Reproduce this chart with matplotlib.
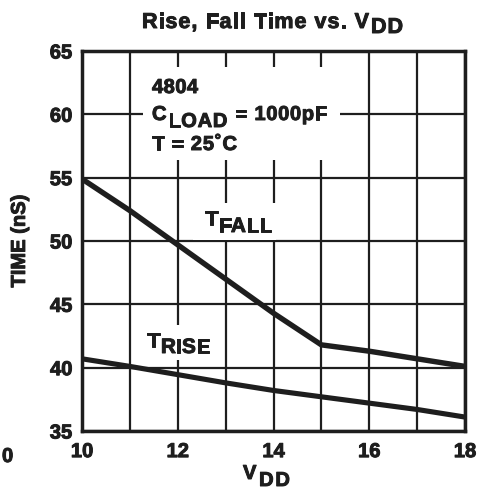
import matplotlib
matplotlib.use("Agg")
import matplotlib.pyplot as plt
import matplotlib.patheffects as pe
from matplotlib.font_manager import FontProperties
from matplotlib.patches import Rectangle
from matplotlib.transforms import IdentityTransform

plt.rcParams['font.family'] = ['Liberation Sans', 'DejaVu Sans']
plt.rcParams['font.weight'] = 'bold'

vdd = [10, 11, 12, 13, 14, 15, 16, 17, 18]
t_fall = [54.9, 52.4, 49.7, 47.0, 44.3, 41.8, 41.3, 40.7, 40.1]
t_rise = [40.7, 40.1, 39.45, 38.8, 38.2, 37.7, 37.2, 36.7, 36.1]
x_ticks = [10, 12, 14, 16, 18]
y_ticks = [35, 40, 45, 50, 55, 60, 65]

W, H = 478, 498
INK = '#1e1e1e'
BOLDER = [pe.withStroke(linewidth=0.7, foreground=INK)]
fig = plt.figure(figsize=(W / 100, H / 100), dpi=100)
ax = fig.add_axes([82 / W, 1 - 431 / H, (465 - 82) / W, (431 - 51) / H])
ax.set_xlim(10, 18)
ax.set_ylim(35, 65)
ax.set_xticks(x_ticks)
ax.set_xticks(range(10, 19), minor=True)
ax.set_yticks(y_ticks)
ax.set_axisbelow(True)
ax.grid(True, which='both', axis='x', color=INK, lw=1.6)
ax.grid(True, which='major', axis='y', color=INK, lw=1.6)
ax.tick_params(which='both', length=0, labelsize=14.5, colors=INK)
ax.tick_params(axis='x', pad=8)
ax.tick_params(axis='y', pad=7)
for lab in ax.get_xticklabels() + ax.get_yticklabels():
    lab.set_fontweight('bold')
    lab.set_path_effects(BOLDER)
for s in ax.spines.values():
    s.set_linewidth(2.5)
    s.set_color(INK)

ax.plot(vdd, t_fall, color=INK, lw=3.9, solid_capstyle='butt', solid_joinstyle='miter', zorder=5)
ax.plot(vdd, t_rise, color=INK, lw=3.7, solid_capstyle='butt', solid_joinstyle='miter', zorder=5)

# white boxes behind in-plot labels (grid gaps)
for x0, y0, x1, y1 in [(143, 67, 340, 160), (193, 203, 276, 240), (140, 325, 216, 360)]:
    ax.add_patch(Rectangle((x0, H - y1), x1 - x0, y1 - y0, transform=IdentityTransform(),
                           facecolor='white', edgecolor='none', zorder=3, clip_on=False))

fig.canvas.draw()
renderer = fig.canvas.get_renderer()


def tw(s, prop):
    return renderer.get_text_width_height_descent(s, prop, ismath=False)[0]


def run(x, base, segs, size, target=None, ha='left'):
    """Draw text made of segments (string, dy_px); x, base in pixels from top-left."""
    prop = FontProperties(family='Liberation Sans', weight='bold', size=size)
    items = []
    cx = 0.0
    k = 0
    for s, dy in segs:
        for i, c in enumerate(s):
            if c != ' ':
                items.append((cx + tw(s[:i + 1], prop) - tw(c, prop), dy, c, k))
            k += 1
        cx += tw(s, prop) + 1
    cx -= 1
    extra = 0.0
    if target is not None and k > 1:
        extra = (target - cx) / (k - 1)
        total = target
    else:
        total = cx
    if ha == 'center':
        x = x - total / 2
    for px, dy, c, idx in items:
        fig.text((x + px + idx * extra) / W, 1 - (base + dy) / H, c, fontproperties=prop,
                 color=INK, va='baseline', ha='left', zorder=6, path_effects=BOLDER)


# title
run(142, 28, [("Rise, Fall Time vs. V", 0), ("DD", 5)], 15.5, target=261)
# x label
run(243, 479, [("V", 0), ("DD", 7)], 14.5, target=47)
# y label
ax.set_ylabel("TIME (nS)", fontsize=14.5, fontweight='bold', color=INK, labelpad=15,
              path_effects=BOLDER)
# annotation block
run(152, 93, [("4804", 0)], 14.5, target=46)
run(152, 120, [("C", 0), ("LOAD", 7), (" = 1000pF", 0)], 14.5, target=175)
run(152, 150, [("T = 25\u02daC", 0)], 14.5, target=85)
# curve labels
run(205, 225, [("T", 0), ("FALL", 7)], 15, target=67)
run(147, 347, [("T", 0), ("RISE", 6)], 15, target=63)
# stray character at lower left
run(2, 462, [("0", 0)], 14.5)

fig.savefig("out.png", dpi=100)
